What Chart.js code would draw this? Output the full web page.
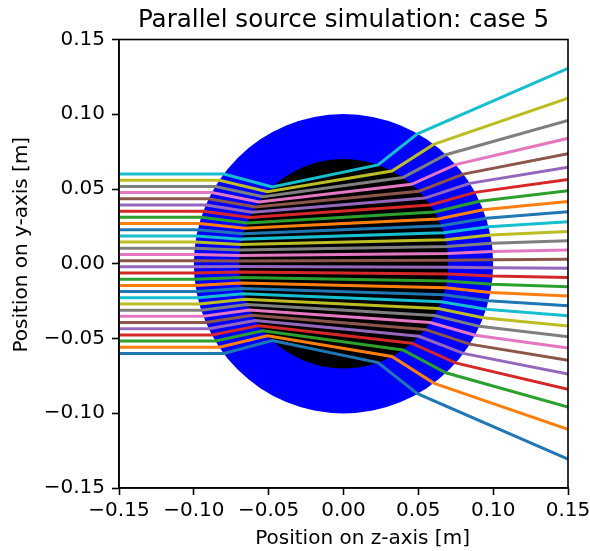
<!DOCTYPE html>
<html>
<head>
<meta charset="utf-8">
<script src="https://cdn.jsdelivr.net/npm/chart.js@4"></script>
<style>
  html, body { margin: 0; padding: 0; background: #fff; }
  #wrap { width: 590px; height: 551px; }
</style>
</head>
<body>
<div id="wrap"><canvas id="myChart" width="590" height="551"></canvas></div>
<script>
// ray paths: start, outer-circle entry, inner-circle entry,
// inner-circle exit, outer-circle exit, right edge
const rayX = [
  [-0.15, -0.08, -0.04753, 0.02307, 0.04941, 0.15],
  [-0.15, -0.08294, -0.05082, 0.03239, 0.06024, 0.15],
  [-0.15, -0.08558, -0.05379, 0.03966, 0.06840, 0.15],
  [-0.15, -0.08795, -0.05645, 0.04555, 0.07483, 0.15],
  [-0.15, -0.09007, -0.05883, 0.05043, 0.08003, 0.15],
  [-0.15, -0.09195, -0.06094, 0.05451, 0.08431, 0.15],
  [-0.15, -0.09361, -0.06281, 0.05794, 0.08786, 0.15],
  [-0.15, -0.09506, -0.06444, 0.06083, 0.09081, 0.15],
  [-0.15, -0.09632, -0.06585, 0.06325, 0.09326, 0.15],
  [-0.15, -0.09738, -0.06705, 0.06524, 0.09527, 0.15],
  [-0.15, -0.09825, -0.06803, 0.06686, 0.09688, 0.15],
  [-0.15, -0.09895, -0.06881, 0.06812, 0.09815, 0.15],
  [-0.15, -0.09946, -0.06940, 0.06905, 0.09906, 0.15],
  [-0.15, -0.09981, -0.06978, 0.06966, 0.09966, 0.15],
  [-0.15, -0.09998, -0.06998, 0.06996, 0.09996, 0.15],
  [-0.15, -0.09998, -0.06998, 0.06996, 0.09996, 0.15],
  [-0.15, -0.09981, -0.06978, 0.06966, 0.09966, 0.15],
  [-0.15, -0.09946, -0.06940, 0.06905, 0.09906, 0.15],
  [-0.15, -0.09895, -0.06881, 0.06812, 0.09815, 0.15],
  [-0.15, -0.09825, -0.06803, 0.06686, 0.09688, 0.15],
  [-0.15, -0.09738, -0.06705, 0.06524, 0.09527, 0.15],
  [-0.15, -0.09632, -0.06585, 0.06325, 0.09326, 0.15],
  [-0.15, -0.09506, -0.06444, 0.06083, 0.09081, 0.15],
  [-0.15, -0.09361, -0.06281, 0.05794, 0.08786, 0.15],
  [-0.15, -0.09195, -0.06094, 0.05451, 0.08431, 0.15],
  [-0.15, -0.09007, -0.05883, 0.05043, 0.08003, 0.15],
  [-0.15, -0.08795, -0.05645, 0.04555, 0.07483, 0.15],
  [-0.15, -0.08558, -0.05379, 0.03966, 0.06840, 0.15],
  [-0.15, -0.08294, -0.05082, 0.03239, 0.06024, 0.15],
  [-0.15, -0.08, -0.04753, 0.02307, 0.04941, 0.15]
];
const rayY = [
  [-0.06, -0.06, -0.05139, -0.06609, -0.08694, -0.13072],
  [-0.05586, -0.05586, -0.04814, -0.06206, -0.07982, -0.11072],
  [-0.05172, -0.05172, -0.04480, -0.05768, -0.07295, -0.09588],
  [-0.04759, -0.04759, -0.04140, -0.05315, -0.06634, -0.08390],
  [-0.04345, -0.04345, -0.03794, -0.04855, -0.05996, -0.07368],
  [-0.03931, -0.03931, -0.03444, -0.04392, -0.05378, -0.06463],
  [-0.03517, -0.03517, -0.03090, -0.03928, -0.04776, -0.05642],
  [-0.03103, -0.03103, -0.02733, -0.03463, -0.04187, -0.04879],
  [-0.02690, -0.02690, -0.02374, -0.03000, -0.03609, -0.04160],
  [-0.02276, -0.02276, -0.02012, -0.02536, -0.03040, -0.03475],
  [-0.01862, -0.01862, -0.01648, -0.02074, -0.02478, -0.02814],
  [-0.01448, -0.01448, -0.01287, -0.01609, -0.01917, -0.02162],
  [-0.01034, -0.01034, -0.00917, -0.01151, -0.01370, -0.01542],
  [-0.00621, -0.00621, -0.00551, -0.00691, -0.00821, -0.00922],
  [-0.00207, -0.00207, -0.00184, -0.00230, -0.00273, -0.00307],
  [0.00207, 0.00207, 0.00184, 0.00230, 0.00273, 0.00307],
  [0.00621, 0.00621, 0.00551, 0.00691, 0.00821, 0.00922],
  [0.01034, 0.01034, 0.00917, 0.01151, 0.01370, 0.01542],
  [0.01448, 0.01448, 0.01287, 0.01609, 0.01917, 0.02162],
  [0.01862, 0.01862, 0.01648, 0.02074, 0.02478, 0.02814],
  [0.02276, 0.02276, 0.02012, 0.02536, 0.03040, 0.03475],
  [0.02690, 0.02690, 0.02374, 0.03000, 0.03609, 0.04160],
  [0.03103, 0.03103, 0.02733, 0.03463, 0.04187, 0.04879],
  [0.03517, 0.03517, 0.03090, 0.03928, 0.04776, 0.05642],
  [0.03931, 0.03931, 0.03444, 0.04392, 0.05378, 0.06463],
  [0.04345, 0.04345, 0.03794, 0.04855, 0.05996, 0.07368],
  [0.04759, 0.04759, 0.04140, 0.05315, 0.06634, 0.08390],
  [0.05172, 0.05172, 0.04480, 0.05768, 0.07295, 0.09588],
  [0.05586, 0.05586, 0.04814, 0.06206, 0.07982, 0.11072],
  [0.06, 0.06, 0.05139, 0.06609, 0.08694, 0.13072]
];
const rayColors = ['#1f77b4', '#ff7f0e', '#2ca02c', '#d62728', '#9467bd',
                   '#8c564b', '#e377c2', '#7f7f7f', '#bcbd22', '#17becf'];

// the two discs: outer shell and inner core
const discRadius = [0.1, 0.07];
const discColor = ['#0000ff', '#000000'];

const tickValues = [-0.15, -0.10, -0.05, 0.00, 0.05, 0.10, 0.15];

const FONT = 'DejaVu Sans';

const fmt = v => (Math.abs(v) < 1e-9 ? '0.00' : v.toFixed(2).replace('-', '\u2212'));

const datasets = rayX.map((xs, i) => ({
  data: xs.map((x, j) => ({ x: x, y: rayY[i][j] })),
  borderColor: rayColors[i % rayColors.length],
  borderWidth: 3,
  pointRadius: 0,
  showLine: true,
  fill: false,
  order: rayX.length - i
}));

const discs = {
  id: 'discs',
  beforeDatasetsDraw(chart) {
    const { ctx, chartArea, scales } = chart;
    const cx = scales.x.getPixelForValue(0);
    const cy = scales.y.getPixelForValue(0);
    ctx.save();
    ctx.beginPath();
    ctx.rect(chartArea.left, chartArea.top, chartArea.width, chartArea.height);
    ctx.clip();
    discRadius.forEach((r, i) => {
      const rp = scales.x.getPixelForValue(r) - cx;
      ctx.beginPath();
      ctx.arc(cx, cy, rp, 0, Math.PI * 2);
      ctx.fillStyle = discColor[i];
      ctx.fill();
    });
    ctx.restore();
  }
};

const frame = {
  id: 'frame',
  afterDatasetsDraw(chart) {
    const { ctx, chartArea } = chart;
    ctx.save();
    ctx.strokeStyle = '#000';
    ctx.lineWidth = 1.6;
    ctx.strokeRect(chartArea.left, chartArea.top, chartArea.width, chartArea.height);
    ctx.restore();
  }
};

const axisOpts = (label) => ({
  type: 'linear',
  min: -0.15,
  max: 0.15,
  afterBuildTicks: (s) => { s.ticks = tickValues.map(v => ({ value: v })); },
  ticks: {
    callback: (v) => fmt(v),
    color: '#000',
    font: { family: FONT, size: 20 },
    padding: 7,
    maxRotation: 0,
    autoSkip: false
  },
  grid: {
    drawOnChartArea: false,
    drawTicks: true,
    tickLength: 7,
    tickWidth: 1.6,
    tickColor: '#000'
  },
  border: { display: true, color: '#000', width: 1.6 },
  title: {
    display: true,
    text: label,
    color: '#000',
    font: { family: FONT, size: 20 },
    padding: { top: 0, bottom: 0 }
  }
});

// leading spaces nudge the labels to where the reference has them
const xOpts = axisOpts('      Position on z-axis [m]');
xOpts.afterFit = (s) => { s.height = 63; s.paddingRight = 22; s.paddingLeft = 0; };
xOpts.ticks.padding = 4;
const yOpts = axisOpts('      Position on y-axis [m]');
yOpts.afterFit = (s) => { s.width = 119; };
yOpts.title.padding = { top: 10, bottom: 0 };

const config = {
  type: 'scatter',
  data: { datasets: datasets },
  options: {
    responsive: false,
    animation: false,
    devicePixelRatio: 1,
    layout: { padding: { left: 0, right: 0, top: 0, bottom: 0 } },
    plugins: {
      legend: { display: false },
      tooltip: { enabled: false },
      title: {
        display: true,
        text: 'Parallel source simulation: case 5',
        color: '#000',
        fullSize: false,
        font: { family: FONT, size: 24.6, weight: 'normal' },
        padding: { top: 6, bottom: 4 }
      }
    },
    scales: { x: xOpts, y: yOpts }
  },
  plugins: [discs, frame]
};

const myChart = new Chart(document.getElementById('myChart'), config);
</script>
</body>
</html>
